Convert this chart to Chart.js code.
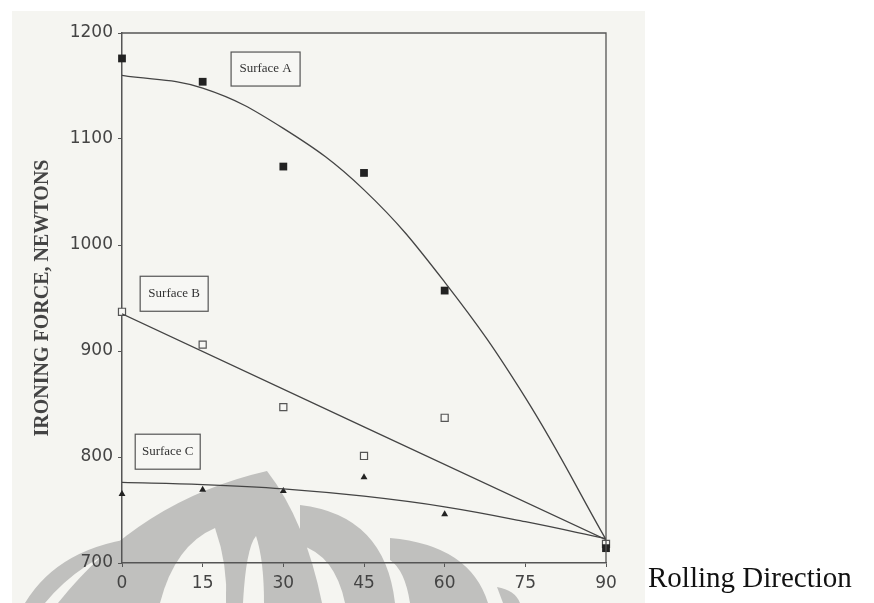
<!DOCTYPE html>
<html lang="en">
<head>
  <meta charset="UTF-8" />
  <title>Ironing Force vs Rolling Direction</title>
  <script src="https://cdn.jsdelivr.net/npm/chart.js"></script>
  <style>
    body {
      margin: 0;
      background: #fff;
    }
    .chart-box {
      position: relative;
      width: 874px;
      height: 603px;
    }
  </style>
</head>
<body>
  <div class="chart-box">
    <canvas id="chart"></canvas>
  </div>

  <script>
    // measured points (angle to rolling direction, degrees)
    const angles = [0, 15, 30, 45, 60, 90];
    const surfaceA = [1176, 1154, 1074, 1068, 957, 714];
    const surfaceB = [937, 906, 847, 801, 837, 718];
    const surfaceC = [765, 769, 768, 781, 746, 716];

    // fitted curves
    const fitAngles = [0, 15, 30, 45, 60, 75, 90];
    const fitA = [1160, 1148, 1110, 1052, 965, 856, 722];
    const fitC = [776, 774, 770, 763, 753, 739, 723];
    const fitBAngles = [0, 90];
    const fitB = [935, 722];

    const xTicks = [0, 15, 30, 45, 60, 75, 90];
    const yTicks = [700, 800, 900, 1000, 1100, 1200];

    const toXY = (xs, ys) => xs.map((x, i) => ({ x: x, y: ys[i] }));

    // label boxes placed in data units
    const labelBoxes = [
      { text: "Surface A", x: 26.7, y: 1166, w: 69, h: 34 },
      { text: "Surface B", x: 9.7, y: 954, w: 68, h: 35 },
      { text: "Surface C", x: 8.5, y: 805, w: 65, h: 35 }
    ];

    const ink = "#444";

    // paper scan background + faint watermark
    const paperPlugin = {
      id: "paper",
      beforeDraw(chart) {
        const ctx = chart.ctx;
        ctx.save();
        ctx.fillStyle = "#fff";
        ctx.fillRect(0, 0, chart.width, chart.height);
        ctx.fillStyle = "#f5f5f1";
        ctx.fillRect(12, 11, 633, chart.height - 11);

        ctx.fillStyle = "#c0c0be";
        // left blade
        ctx.beginPath();
        ctx.moveTo(25, 603);
        ctx.quadraticCurveTo(60, 545, 145, 537);
        ctx.quadraticCurveTo(80, 560, 45, 603);
        ctx.closePath();
        ctx.fill();
        // central flame
        ctx.beginPath();
        ctx.moveTo(58, 603);
        ctx.quadraticCurveTo(140, 500, 267, 471);
        ctx.quadraticCurveTo(305, 520, 322, 603);
        ctx.closePath();
        ctx.fill();
        // right crescents
        ctx.beginPath();
        ctx.moveTo(300, 505);
        ctx.quadraticCurveTo(385, 515, 395, 603);
        ctx.lineTo(345, 603);
        ctx.quadraticCurveTo(335, 555, 300, 545);
        ctx.closePath();
        ctx.fill();
        ctx.beginPath();
        ctx.moveTo(390, 538);
        ctx.quadraticCurveTo(470, 545, 488, 603);
        ctx.lineTo(410, 603);
        ctx.quadraticCurveTo(405, 570, 390, 560);
        ctx.closePath();
        ctx.fill();
        ctx.beginPath();
        ctx.moveTo(497, 587);
        ctx.quadraticCurveTo(515, 590, 520, 603);
        ctx.lineTo(503, 603);
        ctx.closePath();
        ctx.fill();

        // cut-outs inside the flame
        ctx.fillStyle = "#f5f5f1";
        ctx.beginPath();
        ctx.moveTo(243, 603);
        ctx.quadraticCurveTo(246, 548, 256, 536);
        ctx.quadraticCurveTo(264, 560, 264, 603);
        ctx.closePath();
        ctx.fill();
        ctx.beginPath();
        ctx.moveTo(160, 603);
        ctx.quadraticCurveTo(175, 545, 215, 528);
        ctx.quadraticCurveTo(228, 565, 226, 603);
        ctx.closePath();
        ctx.fill();
        ctx.restore();
      },
      afterDraw(chart) {
        const ctx = chart.ctx;
        const area = chart.chartArea;
        const xs = chart.scales.x;
        const ys = chart.scales.y;
        ctx.save();

        // frame top and right
        ctx.strokeStyle = "#555";
        ctx.lineWidth = 1.3;
        ctx.beginPath();
        ctx.moveTo(area.left, area.top);
        ctx.lineTo(area.right, area.top);
        ctx.lineTo(area.right, area.bottom);
        ctx.stroke();

        // surface label boxes
        ctx.font = '13px "Liberation Serif"';
        ctx.textAlign = "center";
        ctx.textBaseline = "middle";
        labelBoxes.forEach(b => {
          const cx = xs.getPixelForValue(b.x);
          const cy = ys.getPixelForValue(b.y);
          ctx.fillStyle = "#f7f7f4";
          ctx.fillRect(cx - b.w / 2, cy - b.h / 2, b.w, b.h);
          ctx.strokeStyle = "#555";
          ctx.lineWidth = 1.2;
          ctx.strokeRect(cx - b.w / 2, cy - b.h / 2, b.w, b.h);
          ctx.fillStyle = "#333";
          ctx.fillText(b.text, cx, cy);
        });

        // x axis caption sits to the right of the last tick
        ctx.font = '29px "Liberation Serif"';
        ctx.textAlign = "left";
        ctx.textBaseline = "alphabetic";
        ctx.fillStyle = "#111";
        ctx.fillText("Rolling Direction", area.right + 42, chart.height - 16);
        ctx.restore();
      }
    };

    const lineStyle = {
      showLine: true,
      pointRadius: 0,
      borderColor: ink,
      borderWidth: 1.3,
      fill: false,
      tension: 0.4
    };

    new Chart(document.getElementById("chart"), {
      type: "scatter",
      data: {
        datasets: [
          Object.assign({ label: "Surface A fit", data: toXY(fitAngles, fitA) }, lineStyle),
          Object.assign({ label: "Surface B fit", data: toXY(fitBAngles, fitB) }, lineStyle),
          Object.assign({ label: "Surface C fit", data: toXY(fitAngles, fitC) }, lineStyle),
          {
            label: "Surface A",
            data: toXY(angles, surfaceA),
            pointStyle: "rect",
            pointRadius: 5.5,
            backgroundColor: "#222",
            borderColor: "#222",
            borderWidth: 0,
            clip: false
          },
          {
            label: "Surface B",
            data: toXY(angles, surfaceB),
            pointStyle: "rect",
            pointRadius: 5,
            backgroundColor: "#f7f7f4",
            borderColor: "#555",
            borderWidth: 1.2,
            clip: false
          },
          {
            label: "Surface C",
            data: toXY(angles, surfaceC),
            pointStyle: "triangle",
            pointRadius: 4,
            backgroundColor: "#222",
            borderColor: "#222",
            borderWidth: 0,
            clip: false
          }
        ]
      },
      options: {
        responsive: true,
        maintainAspectRatio: false,
        animation: false,
        layout: {
          padding: { left: 0, top: 33, right: 268, bottom: 0 }
        },
        plugins: {
          legend: { display: false },
          tooltip: { enabled: false }
        },
        scales: {
          x: {
            type: "linear",
            min: 0,
            max: 90,
            afterBuildTicks: scale => {
              scale.ticks = xTicks.map(v => ({ value: v }));
            },
            afterFit: scale => {
              scale.height = 40;
            },
            ticks: {
              font: { family: "DejaVu Sans", size: 17 },
              color: ink,
              padding: 6,
              maxRotation: 0,
              callback: v => String(v)
            },
            grid: {
              drawOnChartArea: false,
              drawTicks: true,
              tickLength: 4,
              color: "#555"
            },
            border: { display: true, color: "#555", width: 1.5 }
          },
          y: {
            min: 700,
            max: 1200,
            afterBuildTicks: scale => {
              scale.ticks = yTicks.map(v => ({ value: v }));
            },
            afterFit: scale => {
              scale.width = 122;
            },
            ticks: {
              font: { family: "DejaVu Sans", size: 17 },
              color: ink,
              padding: 5,
              callback: v => String(v)
            },
            grid: {
              drawOnChartArea: false,
              drawTicks: true,
              tickLength: 4,
              color: "#555"
            },
            border: { display: true, color: "#555", width: 1.5 },
            title: {
              display: true,
              text: "IRONING FORCE, NEWTONS",
              font: { family: "Liberation Serif", size: 20, weight: "bold" },
              color: ink,
              padding: { top: 31, bottom: 0 }
            }
          }
        }
      },
      plugins: [paperPlugin]
    });
  </script>
</body>
</html>
